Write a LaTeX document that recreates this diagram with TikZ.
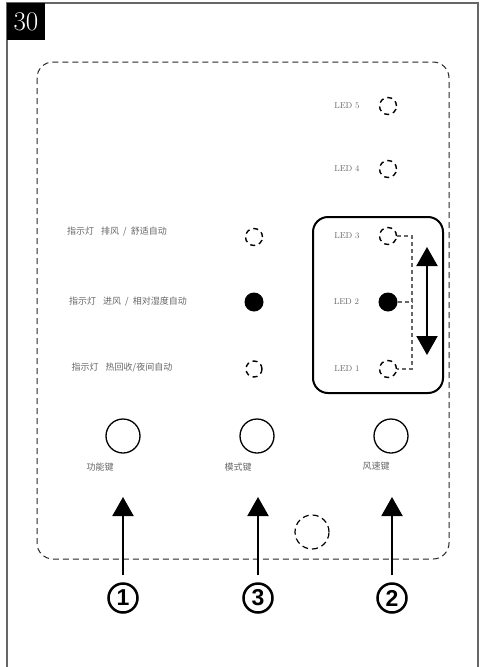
\documentclass[tikz,border=0pt]{standalone}
\usepackage{fontspec}
\usetikzlibrary{arrows.meta,positioning}
\newfontfamily\cjk{Noto Sans CJK SC}
\newfontfamily\numfont{Liberation Sans}
\colorlet{txtgray}{black!60}
\colorlet{framegray}{black!60}

\begin{document}
\begin{tikzpicture}[x=1pt,y=-1pt,>={Triangle[length=19pt,width=21pt]},
  ledoff/.style={circle,draw,line width=1.4pt,dash pattern=on 5pt off 4pt,minimum size=17pt,inner sep=0pt},
  ledon/.style={circle,fill=black,minimum size=19pt,inner sep=0pt},
  ledtxt/.style={text=txtgray,font=\fontsize{8.5}{8.5}\selectfont,inner sep=0pt},
  cntxt/.style={text=txtgray,font=\cjk\fontsize{9}{9}\selectfont},
  keytxt/.style={text=txtgray,font=\cjk\fontsize{9}{9}\selectfont},
  keybtn/.style={circle,draw,line width=1.3pt,minimum size=34pt,inner sep=0pt},
  numcirc/.style={circle,draw,line width=2.5pt,minimum size=29pt,inner sep=0pt,
    font=\numfont\bfseries\fontsize{23}{23}\selectfont},
  keyarrow/.style={->,line width=2pt,shorten <=7pt}]
\useasboundingbox (0,0) rectangle (484,667);
% page frame and number
\draw[framegray,line width=1.2pt] (7,667) -- (7,3) -- (478,3) -- (478,667);
\node[fill=black,text=white,minimum width=38pt,minimum height=37pt,inner sep=0pt,
  font=\fontsize{27}{27}\selectfont] (pg) at (26,21.5) {30};
% panel outline
\draw[black!85,line width=1pt,dash pattern=on 6pt off 4pt,rounded corners=16pt]
  (37,62) rectangle (449,559);
% LED column
\node[ledoff] (led5) at (388,106) {};
\node[ledoff] (led4) at (388,169) {};
\node[ledoff] (led3) at (388,236) {};
\node[ledon]  (led2) at (388,302) {};
\node[ledoff] (led1) at (388,369) {};
\foreach \n in {1,...,5}
  \node[ledtxt,left=19pt of led\n] (ledl\n) {LED\,\,\n};
\draw[line width=2pt,rounded corners=15pt] (313,217) rectangle (443,393);
\coordinate (j3) at (412,236);
\coordinate (j2) at (412,302);
\coordinate (j1) at (412,369);
\draw[framegray,line width=1.2pt,dash pattern=on 4pt off 3pt]
  (led3.east) -- (j3) -- (j1) -- (led1.east);
\draw[framegray,line width=1.2pt,dash pattern=on 4pt off 3pt] (led2.east) -- (j2);
\coordinate (up) at (427,247);
\coordinate (dn) at (427,355);
\draw[<->,line width=2pt] (up) -- (dn);
% indicator lamps
\node[ledoff] (ind1) at (254,237) {};
\node[ledon]  (ind2) at (254,302) {};
\node[ledoff,minimum size=16pt] (ind3) at (254,369) {};
\node[cntxt] (indl1) at (117,231) {指示灯\hspace{7pt}排风\hspace{4pt}/\hspace{4pt}舒适自动};
\node[cntxt] (indl2) at (128,301) {指示灯\hspace{7pt}进风\hspace{4pt}/\hspace{4pt}相对湿度自动};
\node[cntxt] (indl3) at (122,367) {指示灯\hspace{7pt}热回收/夜间自动};
% keys
\node[keybtn] (key1) at (123,436) {};
\node[keybtn] (key3) at (257,436) {};
\node[keybtn] (key2) at (391,436) {};
\node[keytxt] (keyl1) at (100,467) {功能键};
\node[keytxt] (keyl3) at (238,467) {模式键};
\node[keytxt] (keyl2) at (376,466) {风速键};
\node[ledoff,minimum size=34pt,line width=1.2pt,dash pattern=on 6pt off 4pt] (sens) at (312,532) {};
% callouts
\node[numcirc] (n1) at (123,598) {1};
\node[numcirc] (n3) at (258,598) {3};
\node[numcirc] (n2) at (392,598) {2};
\coordinate (t1) at (123,497);
\coordinate (t3) at (258,497);
\coordinate (t2) at (392,497);
\draw[keyarrow] (n1.north) -- (t1);
\draw[keyarrow] (n3.north) -- (t3);
\draw[keyarrow] (n2.north) -- (t2);
\end{tikzpicture}
\end{document}
